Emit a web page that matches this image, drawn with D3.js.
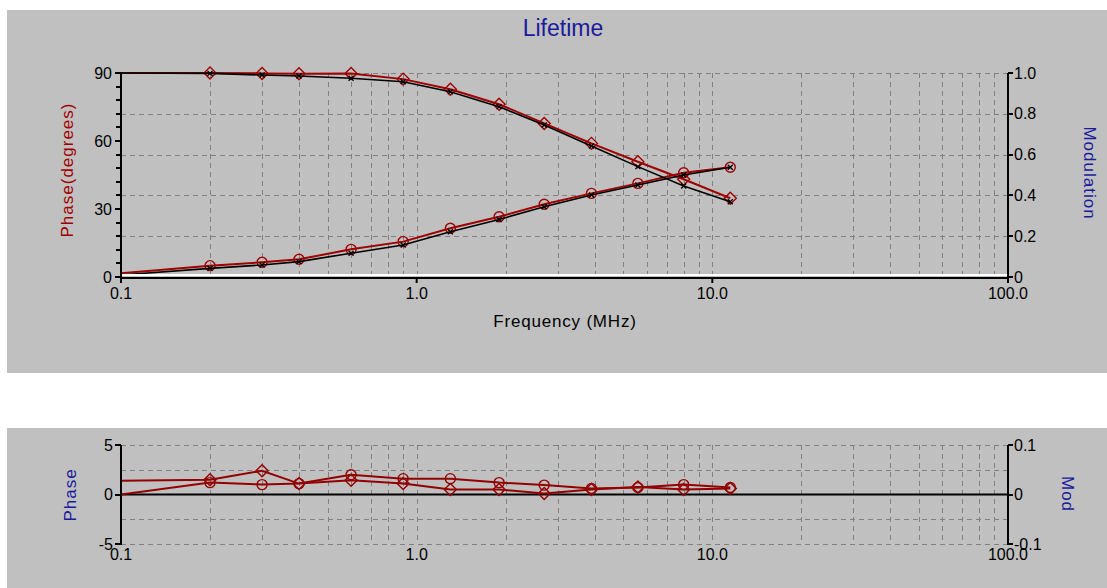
<!DOCTYPE html>
<html>
<head>
<meta charset="utf-8">
<title>Lifetime</title>
<script src="https://d3js.org/d3.v7.min.js"></script>
<style>
  body { margin: 0; background: #fff; }
  svg text { font-family: "Liberation Sans", Arial, sans-serif; }
</style>
</head>
<body>
<div id="chart"></div>
<script>
// frequencies (MHz) of the measured points
const freqs = [0.1, 0.2, 0.3, 0.4, 0.6, 0.9, 1.3, 1.9, 2.7, 3.9, 5.6, 8.0, 11.5];
// phase (degrees), measured and fitted
const phaseData = [1.6, 5.0, 6.5, 7.8, 12.2, 15.6, 21.5, 26.6, 32.1, 36.9, 41.3, 46.0, 48.4];
const phaseFit  = [0.9, 3.8, 5.3, 6.8, 10.5, 14.1, 20.0, 25.4, 31.0, 36.2, 40.6, 45.0, 48.4];
// modulation, measured and fitted
const modData = [1.0, 1.0, 0.998, 0.996, 0.998, 0.97, 0.92, 0.847, 0.753, 0.655, 0.565, 0.479, 0.386];
const modFit  = [1.0, 0.998, 0.99, 0.985, 0.974, 0.957, 0.908, 0.835, 0.745, 0.642, 0.541, 0.446, 0.369];
// residuals
const phaseResid = [0.0, 1.2, 1.0, 1.1, 2.0, 1.6, 1.6, 1.2, 0.95, 0.6, 0.7, 1.0, 0.7];
const modResid   = [0.028, 0.030, 0.048, 0.022, 0.029, 0.022, 0.010, 0.010, 0.002, 0.010, 0.015, 0.010, 0.012];

const freqTicks = [0.1, 1, 10, 100];
const freqLabels = ["0.1", "1.0", "10.0", "100.0"];
const phaseTicks = [0, 30, 60, 90];
const modTicks = [0, 0.2, 0.4, 0.6, 0.8, 1.0];
const modLabels = ["0", "0.2", "0.4", "0.6", "0.8", "1.0"];
const residPhaseTicks = [5, 0, -5];
const residModTicks = [0.1, 0, -0.1];
const residModLabels = ["0.1", "0", "-0.1"];

const W = 1107, H = 588;
const red = "#a00000", darkRed = "#940000", blue = "#1a1a9c", gridCol = "#808080";
const tickFont = 16, titleFont = 17;

const svg = d3.select("#chart").append("svg")
    .attr("width", W).attr("height", H);

// panels
svg.append("rect").attr("x", 7).attr("y", 10).attr("width", W - 7).attr("height", 363).attr("fill", "#c0c0c0");
svg.append("rect").attr("x", 7).attr("y", 428).attr("width", W - 7).attr("height", H - 428).attr("fill", "#c0c0c0");

const x = d3.scaleLog().domain([0.1, 100]).range([121, 1008]);
const yPhase = d3.scaleLinear().domain([0, 90]).range([277, 73]);
const yMod = d3.scaleLinear().domain([0, 1]).range([277, 73]);
const yRes = d3.scaleLinear().domain([-5, 5]).range([544, 445]);
const yResMod = d3.scaleLinear().domain([-0.1, 0.1]).range([544, 445]);

// grid frequencies 0.2..90
let gridF = [];
[0.1, 1, 10].forEach(d => { for (let k = 1; k <= 9; k++) { let f = k * d; if (f > 0.1) gridF.push(f); } });

function grid(g, y0, y1, hVals, yScale) {
  g.selectAll("line.v").data(gridF).join("line").attr("class", "v")
    .attr("x1", d => Math.round(x(d)) + 0.5).attr("x2", d => Math.round(x(d)) + 0.5)
    .attr("y1", y0).attr("y2", y1)
    .attr("stroke", gridCol).attr("stroke-dasharray", "5,4");
  g.selectAll("line.h").data(hVals).join("line").attr("class", "h")
    .attr("x1", x(0.1)).attr("x2", x(100))
    .attr("y1", d => Math.round(yScale(d)) + 0.5).attr("y2", d => Math.round(yScale(d)) + 0.5)
    .attr("stroke", gridCol).attr("stroke-dasharray", "5,4");
}

// ---- top panel ----
const topG = svg.append("g");
grid(topG.append("g"), 73, 277, [0.2, 0.4, 0.6, 0.8, 1.0], yMod);

const defs = svg.append("defs");
defs.append("clipPath").attr("id", "clipTop")
  .append("rect").attr("x", 121).attr("y", 65).attr("width", 887).attr("height", 212);
defs.append("clipPath").attr("id", "clipBot")
  .append("rect").attr("x", 121).attr("y", 440).attr("width", 887).attr("height", 110);

const plotTop = topG.append("g").attr("clip-path", "url(#clipTop)");

function series(g, vals, yScale, color, marker) {
  const pts = freqs.map((f, i) => [x(f), yScale(vals[i])]);
  g.append("path").attr("d", d3.line()(pts))
    .attr("fill", "none").attr("stroke", color).attr("stroke-width", marker === "cross" ? 1.6 : 2);
  const m = g.selectAll(null).data(pts.slice(1)).join("g")
    .attr("transform", d => `translate(${d[0]},${d[1]})`);
  if (marker === "circle") {
    m.append("circle").attr("r", 5).attr("fill", "none").attr("stroke", color).attr("stroke-width", 1.4);
  } else if (marker === "diamond") {
    m.append("path").attr("d", "M0,-6L6,0L0,6L-6,0Z").attr("fill", "none").attr("stroke", color).attr("stroke-width", 1.4);
  } else if (marker === "cross") {
    m.append("path").attr("d", "M-2.5,-2.5L2.5,2.5M-2.5,2.5L2.5,-2.5").attr("stroke", color).attr("stroke-width", 1.3);
  }
}

series(plotTop, phaseData, yPhase, red, "circle");
series(plotTop, modData, yMod, red, "diamond");
series(plotTop, phaseFit, yPhase, "#000", "cross");
series(plotTop, modFit, yMod, "#000", "cross");

// axes top
topG.append("line").attr("x1", 121).attr("x2", 1008).attr("y1", 275).attr("y2", 275).attr("stroke", "#fff").attr("stroke-width", 2);
topG.append("line").attr("x1", 120).attr("x2", 1009).attr("y1", 278).attr("y2", 278).attr("stroke", "#000").attr("stroke-width", 2);
topG.append("line").attr("x1", 121).attr("x2", 121).attr("y1", 73).attr("y2", 279).attr("stroke", "#000").attr("stroke-width", 2);
topG.append("line").attr("x1", 1008).attr("x2", 1008).attr("y1", 73).attr("y2", 279).attr("stroke", "#000").attr("stroke-width", 2);

// left phase ticks, every 6 degrees
topG.selectAll("line.pt").data(d3.range(0, 91, 6)).join("line").attr("class", "pt")
  .attr("x1", d => phaseTicks.includes(d) ? 115 : 116).attr("x2", 121)
  .attr("y1", d => Math.round(yPhase(d))).attr("y2", d => Math.round(yPhase(d)))
  .attr("stroke", "#000").attr("stroke-width", 2);
topG.selectAll("text.pl").data(phaseTicks).join("text").attr("class", "pl")
  .attr("x", 112).attr("y", d => yPhase(d)).attr("dy", "0.35em")
  .attr("text-anchor", "end").attr("font-size", tickFont).text(d => d);

// right modulation ticks
topG.selectAll("line.mt").data(modTicks).join("line").attr("class", "mt")
  .attr("x1", 1008).attr("x2", 1013)
  .attr("y1", d => Math.round(yMod(d))).attr("y2", d => Math.round(yMod(d)))
  .attr("stroke", "#000").attr("stroke-width", 2);
topG.selectAll("text.ml").data(modTicks).join("text").attr("class", "ml")
  .attr("x", 1014).attr("y", d => yMod(d)).attr("dy", "0.35em")
  .attr("font-size", tickFont).text((d, i) => modLabels[i]);

// x ticks
topG.selectAll("line.xt").data(freqTicks).join("line").attr("class", "xt")
  .attr("x1", d => x(d)).attr("x2", d => x(d)).attr("y1", 278).attr("y2", 283)
  .attr("stroke", "#000").attr("stroke-width", 2);
topG.selectAll("text.xl").data(freqTicks).join("text").attr("class", "xl")
  .attr("x", d => x(d)).attr("y", 293).attr("dy", "0.35em")
  .attr("text-anchor", "middle").attr("font-size", tickFont).text((d, i) => freqLabels[i]);

topG.append("text").attr("x", 563).attr("y", 28).attr("dy", "0.35em").attr("text-anchor", "middle")
  .attr("font-size", 23).attr("fill", blue).text("Lifetime");
topG.append("text").attr("x", 565).attr("y", 321).attr("dy", "0.35em").attr("text-anchor", "middle")
  .attr("font-size", titleFont).attr("letter-spacing", 0.8).attr("fill", "#000").text("Frequency (MHz)");
topG.append("text").attr("transform", "translate(67,170) rotate(-90)").attr("dy", "0.35em")
  .attr("text-anchor", "middle").attr("font-size", titleFont).attr("letter-spacing", 1).attr("fill", red).text("Phase(degrees)");
topG.append("text").attr("transform", "translate(1090,173) rotate(90)").attr("dy", "0.35em")
  .attr("text-anchor", "middle").attr("font-size", titleFont).attr("letter-spacing", 1).attr("fill", blue).text("Modulation");

// ---- bottom panel ----
const botG = svg.append("g");
grid(botG.append("g"), 445, 544, [5, 2.5, -2.5, -5], yRes);
botG.append("line").attr("x1", 121).attr("x2", 1008).attr("y1", yRes(0)).attr("y2", yRes(0))
  .attr("stroke", "#000").attr("stroke-width", 2);

const plotBot = botG.append("g").attr("clip-path", "url(#clipBot)");
series(plotBot, phaseResid, yRes, darkRed, "circle");
series(plotBot, modResid, yResMod, darkRed, "diamond");

botG.append("line").attr("x1", 121).attr("x2", 121).attr("y1", 445).attr("y2", 545).attr("stroke", "#000").attr("stroke-width", 2);
botG.append("line").attr("x1", 1008).attr("x2", 1008).attr("y1", 445).attr("y2", 545).attr("stroke", "#000").attr("stroke-width", 2);

botG.selectAll("line.rt").data(residPhaseTicks).join("line").attr("class", "rt")
  .attr("x1", 115).attr("x2", 121).attr("y1", d => Math.round(yRes(d))).attr("y2", d => Math.round(yRes(d)))
  .attr("stroke", "#000").attr("stroke-width", 2);
botG.selectAll("text.rl").data(residPhaseTicks).join("text").attr("class", "rl")
  .attr("x", 113).attr("y", d => yRes(d)).attr("dy", "0.35em")
  .attr("text-anchor", "end").attr("font-size", tickFont).text(d => d);

botG.selectAll("line.rmt").data(residModTicks).join("line").attr("class", "rmt")
  .attr("x1", 1008).attr("x2", 1013).attr("y1", d => Math.round(yResMod(d))).attr("y2", d => Math.round(yResMod(d)))
  .attr("stroke", "#000").attr("stroke-width", 2);
botG.selectAll("text.rml").data(residModTicks).join("text").attr("class", "rml")
  .attr("x", 1014).attr("y", d => yResMod(d)).attr("dy", "0.35em")
  .attr("font-size", tickFont).text((d, i) => residModLabels[i]);

botG.selectAll("text.bxl").data(freqTicks).join("text").attr("class", "bxl")
  .attr("x", d => x(d)).attr("y", 554).attr("dy", "0.35em")
  .attr("text-anchor", "middle").attr("font-size", tickFont).text((d, i) => freqLabels[i]);

botG.append("text").attr("transform", "translate(70,495) rotate(-90)").attr("dy", "0.35em")
  .attr("text-anchor", "middle").attr("font-size", titleFont).attr("letter-spacing", 1).attr("fill", blue).text("Phase");
botG.append("text").attr("transform", "translate(1068,494) rotate(90)").attr("dy", "0.35em")
  .attr("text-anchor", "middle").attr("font-size", titleFont).attr("letter-spacing", 1).attr("fill", blue).text("Mod");
</script>
</body>
</html>
